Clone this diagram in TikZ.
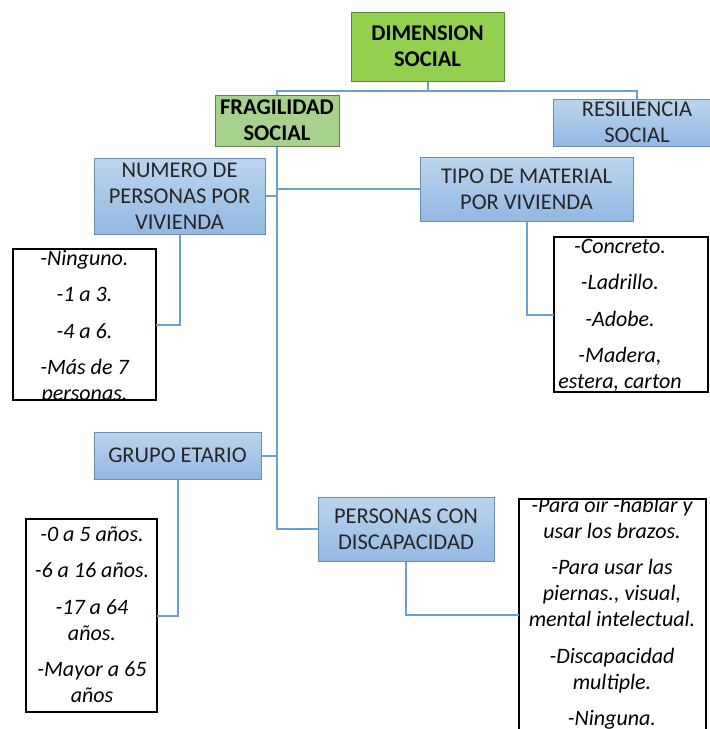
\documentclass[tikz,border=0pt]{standalone}
\usepackage{fontspec}
\setmainfont{Carlito}
\definecolor{greenA}{HTML}{92D050}
\definecolor{greenAedge}{HTML}{5F8A34}
\definecolor{greenB}{HTML}{A9D18E}
\definecolor{greenBedge}{HTML}{5E7F4A}
\definecolor{bluetop}{HTML}{BCD5EE}
\definecolor{bluebot}{HTML}{92B8E2}
\definecolor{blueedge}{HTML}{6B8BB3}
\definecolor{linkblue}{HTML}{6A9FD6}
\definecolor{boxtext}{HTML}{262626}
\tikzset{
  headbox/.style={draw=greenAedge, line width=1pt, fill=greenA, inner sep=0pt, align=center,
    font=\fontsize{22.5}{26}\selectfont\bfseries},
  subbox/.style={draw=greenBedge, line width=1pt, fill=greenB, inner sep=0pt, align=center,
    font=\fontsize{22.5}{26}\selectfont\bfseries},
  bluebox/.style={draw=blueedge, line width=1pt, top color=bluetop, bottom color=bluebot,
    inner sep=0pt, align=center, text=boxtext, font=\fontsize{22.5}{26}\selectfont},
  listbox/.style={fill=white, inner sep=0pt},
  listedge/.style={draw=black, line width=2pt},
  listtext/.style={inner sep=0pt, align=center, anchor=north, text=black,
    font=\fontsize{22}{26}\selectfont\itshape},
  link/.style={draw=linkblue, line width=2pt},
}
\newcommand{\gap}{\\[10.5pt]}
\begin{document}
\begin{tikzpicture}[x=1pt,y=-1pt]
\useasboundingbox (0,0) rectangle (710,729);
\fill[white] (0,0) rectangle (710,729);

% top levels
\node[headbox, minimum width=153pt, minimum height=69pt] (dim) at (427.5,46.5) {DIMENSION\\SOCIAL};
\node[subbox, minimum width=124pt, minimum height=51pt] (frag) at (277,120.5) {FRAGILIDAD\\SOCIAL};
\node[bluebox, minimum width=168pt, minimum height=47pt] (res) at (637,122.5) {RESILIENCIA\\SOCIAL};

% indicators
\node[bluebox, minimum width=171pt, minimum height=76pt] (num) at (179.5,196) {NUMERO DE\\PERSONAS POR\\VIVIENDA};
\node[bluebox, minimum width=213pt, minimum height=64pt] (tipo) at (526.5,189) {TIPO DE MATERIAL\\POR VIVIENDA};
\node[bluebox, minimum width=167pt, minimum height=47pt] (grupo) at (177.5,455.5) {GRUPO ETARIO};
\node[bluebox, minimum width=176pt, minimum height=64pt] (pcd) at (406,529) {PERSONAS CON\\DISCAPACIDAD};

% list boxes
\node[listbox, minimum width=143pt, minimum height=151pt] (lst1) at (84.5,324.5) {};
\node[listbox, minimum width=154pt, minimum height=155pt] (lst2) at (631,314.5) {};
\node[listbox, minimum width=131pt, minimum height=193pt] (lst3) at (91.5,615.5) {};
\node[listbox, minimum width=187pt, minimum height=232pt] (lst4) at (612.5,615) {};

\begin{scope}
\clip (lst1.north west) rectangle (lst1.south east);
\node[listtext] (t1) at (84.5,246.8) {\strut-Ninguno.\gap\strut-1 a 3.\gap\strut-4 a 6.\gap\strut-Más de 7\\\strut personas.};
\end{scope}
\begin{scope}
\clip (lst2.north west) rectangle (lst2.south east);
\node[listtext] (t2) at (620,235) {\strut-Concreto.\gap\strut-Ladrillo.\gap\strut-Adobe.\gap\strut-Madera,\\\strut estera, carton};
\end{scope}
\begin{scope}
\clip (lst3.north west) rectangle (lst3.south east);
\node[listtext] (t3) at (92,522.8) {\strut-0 a 5 años.\gap\strut-6 a 16 años.\gap\strut-17 a 64\\\strut años.\gap\strut-Mayor a 65\\\strut años};
\end{scope}
\begin{scope}
\clip (lst4.north west) rectangle (lst4.south east);
\node[listtext] (t4) at (612,493.8) {\strut-Para oir -hablar y\\\strut usar los brazos.\gap\strut-Para usar las\\\strut piernas., visual,\\\strut mental intelectual.\gap\strut-Discapacidad\\\strut multiple.\gap\strut-Ninguna.};
\end{scope}
\foreach \b in {lst1,lst2,lst3,lst4}
  \draw[listedge] (\b.north west) rectangle (\b.south east);

% connectors
\path (dim.south) ++(0,9) coordinate (hub);
\draw[link] (dim.south) -- (hub) -| (frag.north);
\draw[link] (hub) -| (res.north);
\draw[link] (frag.south) |- (pcd.west);
\draw[link] (num.east) -- (num.east -| frag.south);
\draw[link] (tipo.west) -- (tipo.west -| frag.south);
\draw[link] (grupo.east) -- (grupo.east -| frag.south);
\draw[link] (num.south) |- (lst1.east);
\draw[link] (tipo.south) |- (lst2.west);
\draw[link] (grupo.south) |- (lst3.east);
\draw[link] (pcd.south) |- (lst4.west);
\end{tikzpicture}
\end{document}
